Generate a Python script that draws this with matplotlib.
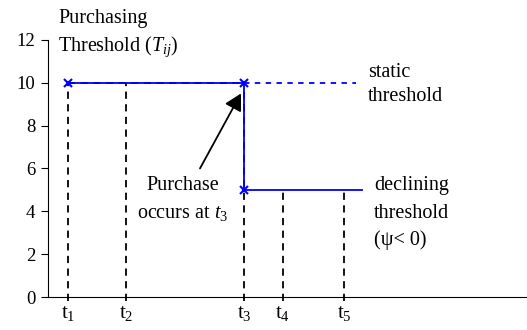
import matplotlib.pyplot as plt

plt.rcParams['font.family'] = ['Liberation Serif', 'DejaVu Serif']
plt.rcParams['mathtext.fontset'] = 'custom'
plt.rcParams['mathtext.it'] = 'Liberation Serif:italic'
plt.rcParams['mathtext.rm'] = 'Liberation Serif'

# time points along the horizontal axis
t_pos = [20, 78, 196, 235, 296]
t_labels = [r'$\mathrm{t}_{1}$', r'$\mathrm{t}_{2}$', r'$\mathrm{t}_{3}$',
            r'$\mathrm{t}_{4}$', r'$\mathrm{t}_{5}$']
# dashed guide heights at each time point
guide_top = [10, 10, 10, 5, 5]

static_level = 10
declining_level = 5
static_end = 308
declining_end = 314

fig = plt.figure(figsize=(5.27, 3.3), dpi=100)
ax = fig.add_axes([0.091, 0.1, 0.909, 0.779])
ax.set_xlim(0, 479)
ax.set_ylim(0, 12)

fs = 14.5

# dashed guides
for x, top in zip(t_pos, guide_top):
    ax.plot([x, x], [-0.2, top], color='black', ls=(0, (4, 3)), lw=1.3,
            zorder=2, clip_on=False)
ax.plot([t_pos[0], t_pos[2]], [static_level, static_level], color='black',
        ls=(0, (4, 3)), lw=1.3, zorder=2)

# static threshold (dotted continuation)
ax.plot([t_pos[2], static_end], [static_level, static_level], color='blue',
        ls=(0, (3, 3)), lw=1.3, zorder=3)
# declining threshold
ax.plot([t_pos[0], t_pos[2], t_pos[2], declining_end],
        [static_level, static_level, declining_level, declining_level],
        color='blue', lw=1.3, zorder=3)
ax.plot([t_pos[0], t_pos[2], t_pos[2]],
        [static_level, static_level, declining_level],
        ls='none', marker='x', color='blue', ms=6, mew=1.5, zorder=4)

ax.annotate('', xy=(193, 9.5), xytext=(152, 6.0),
            arrowprops=dict(arrowstyle='-|>,head_length=1.0,head_width=0.55',
                            color='black', lw=1.3, shrinkA=0, shrinkB=0))
ax.text(135, 5.2, 'Purchase', ha='center', va='center', fontsize=fs)
ax.text(135, 3.9, r'occurs at $t_3$', ha='center', va='center', fontsize=fs)

ax.text(320, 10.5, 'static', ha='left', va='center', fontsize=fs)
ax.text(320, 9.35, 'threshold', ha='left', va='center', fontsize=fs)
ax.text(326, 5.2, 'declining', ha='left', va='center', fontsize=fs)
ax.text(326, 3.9, 'threshold', ha='left', va='center', fontsize=fs)
ax.text(326, 2.66, '(ψ< 0)', ha='left', va='center', fontsize=fs)

ax.text(10, 13.0, 'Purchasing', ha='left', va='center', fontsize=fs,
        clip_on=False)
ax.text(10, 11.7, r'Threshold ($T_{ij}$)', ha='left', va='center',
        fontsize=fs, clip_on=False)

ax.set_yticks(range(0, 13, 2))
ax.tick_params(axis='y', direction='out', length=5, labelsize=13.5, pad=4)
ax.set_xticks(t_pos)
ax.set_xticklabels(t_labels)
ax.tick_params(axis='x', length=0, labelsize=15, pad=5)

ax.spines['top'].set_visible(False)
ax.spines['right'].set_visible(False)

fig.savefig('out.png', dpi=100)
